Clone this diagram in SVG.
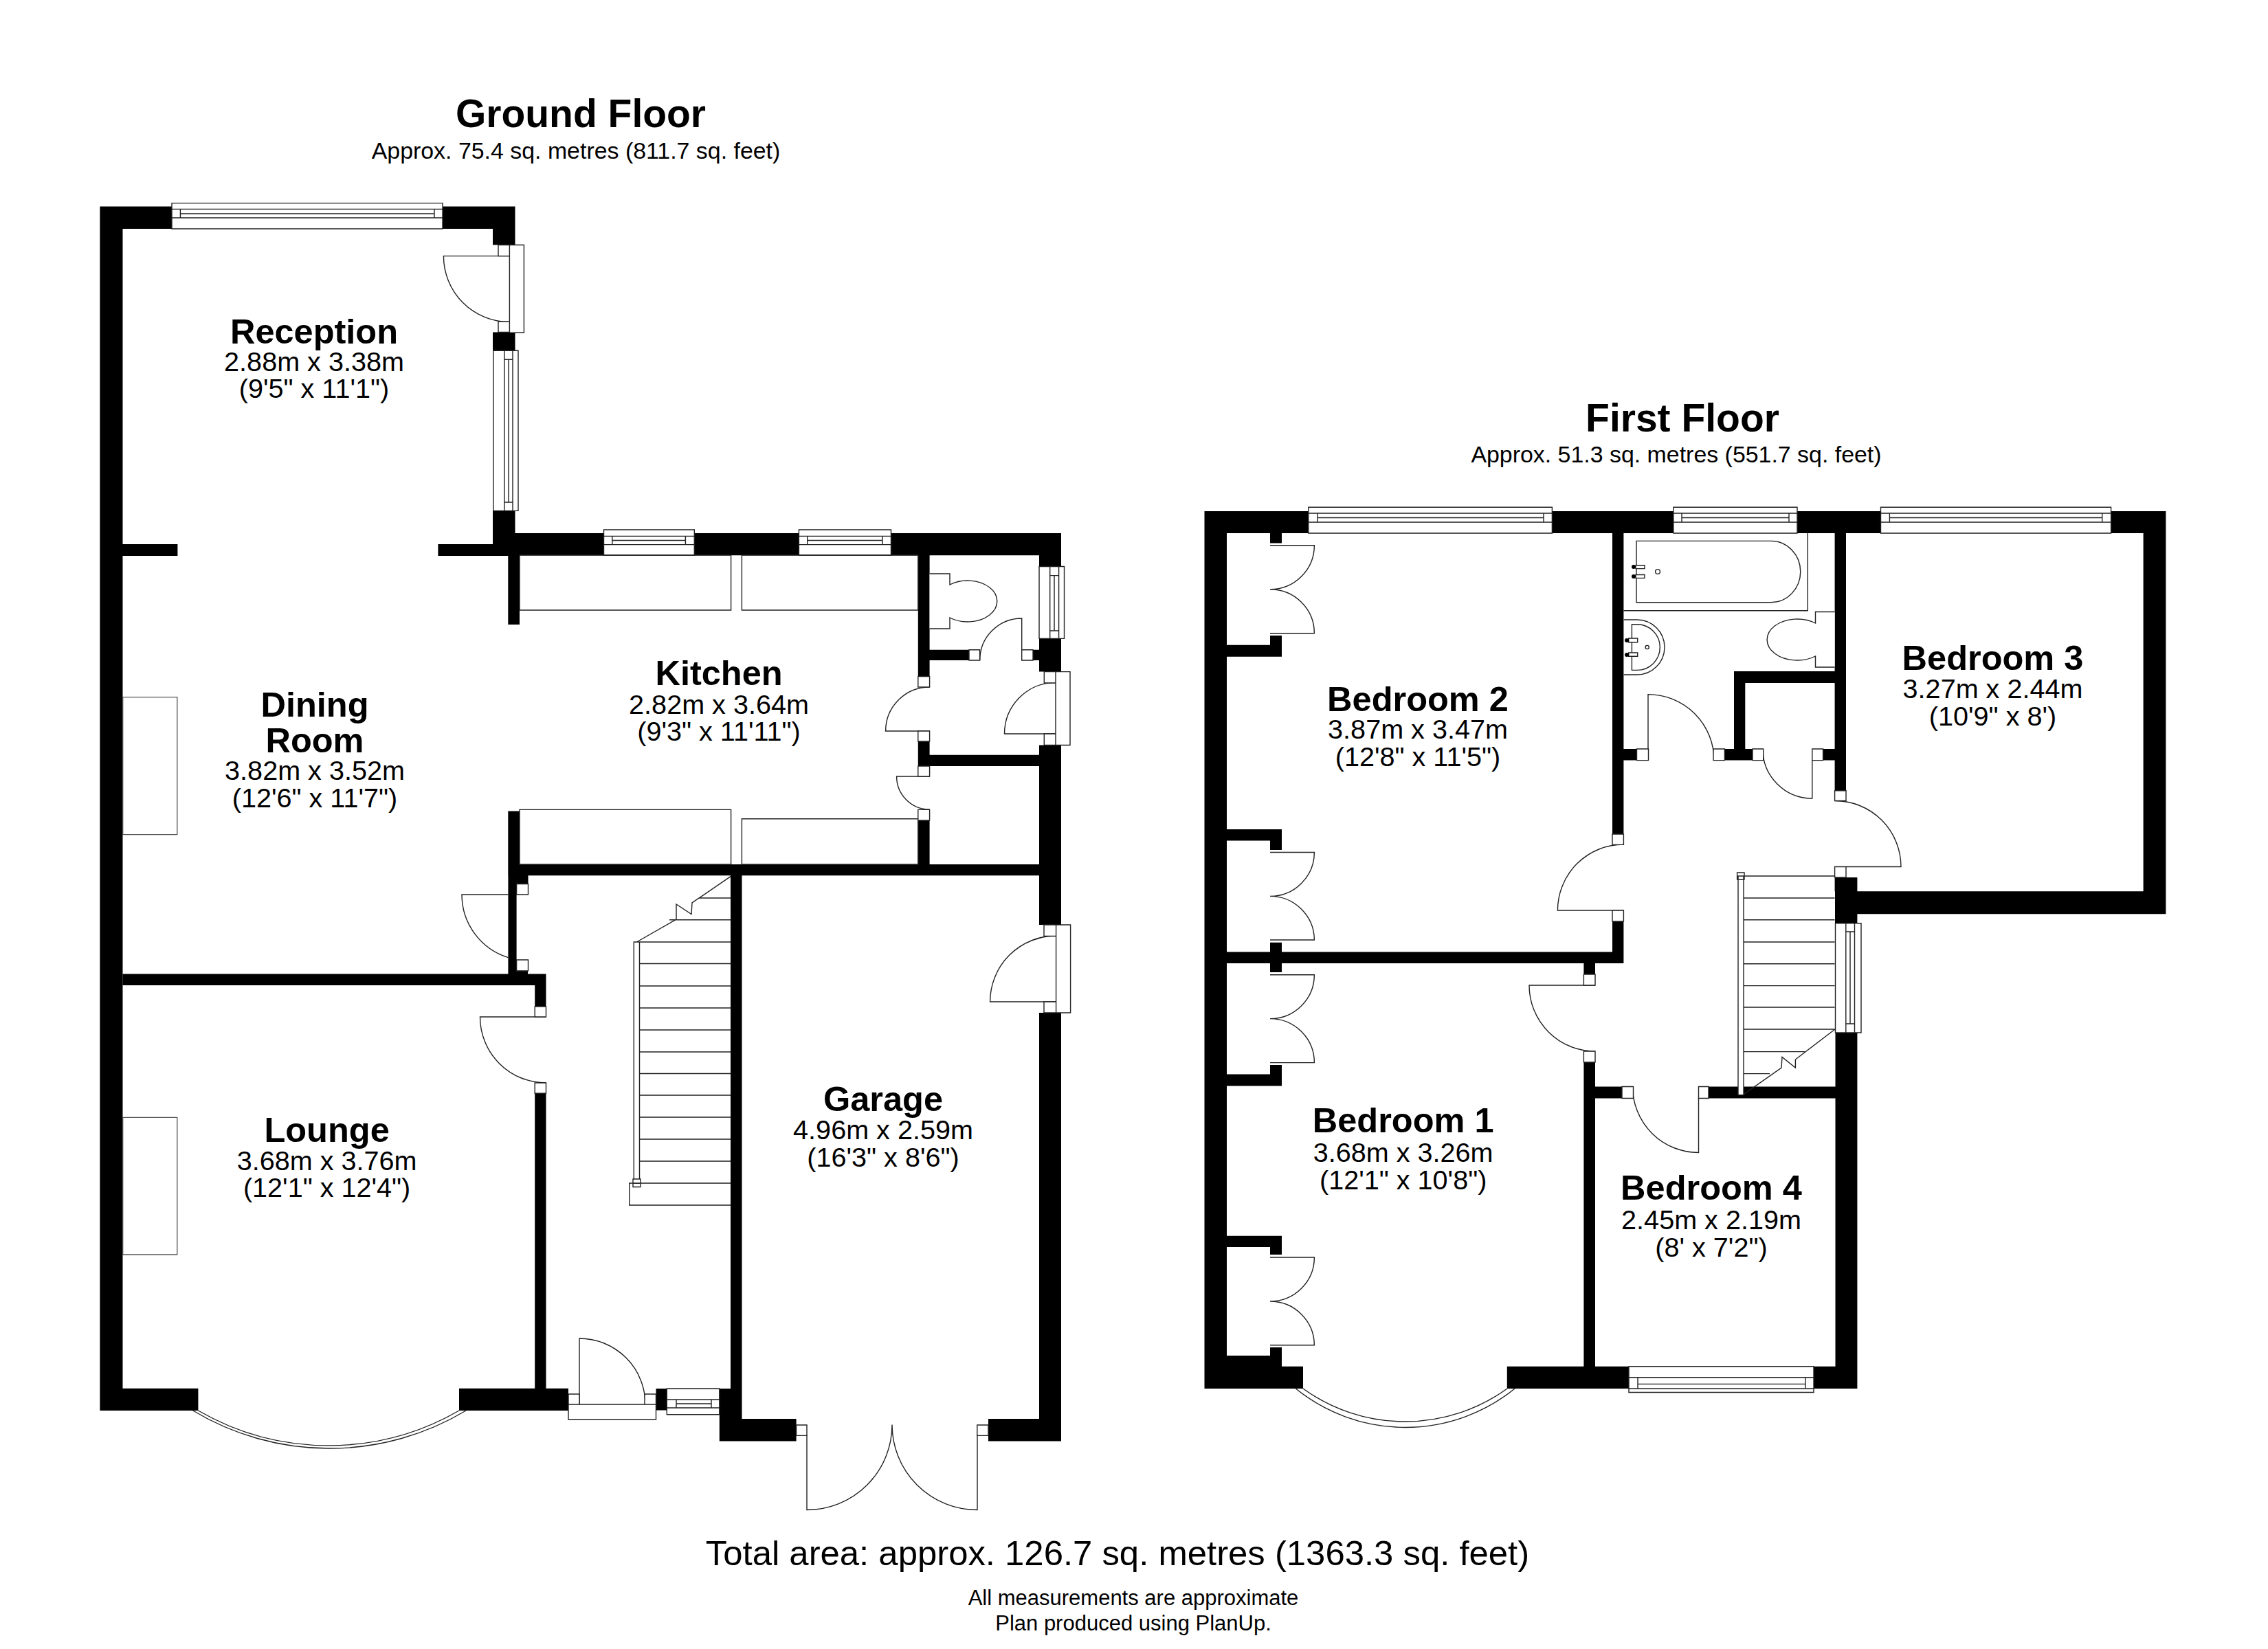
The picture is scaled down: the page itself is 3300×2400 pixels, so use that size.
<svg xmlns="http://www.w3.org/2000/svg" width="3300" height="2400" viewBox="0 0 3300 2400">
<style>
text{font-family:"Liberation Sans",Arial,sans-serif;fill:#000;text-anchor:middle}
.n{font-size:50.5px;font-weight:700}
.m{font-size:39.6px}
.h{font-size:57px;font-weight:700}
.s{font-size:33.9px}
.wall{fill:#000}
.f{fill:#fff;stroke:#222;stroke-width:1.4}
.l{fill:none;stroke:#222;stroke-width:1.4}
.g{fill:none;stroke:#555;stroke-width:1.3}
.dot{fill:#000}
</style>
<rect width="3300" height="2400" fill="#fff"/>
<g id="ground-floor">
<path id="ground-walls" class="wall" d="M145.4 300.6H178.5V2053H145.4Z M145.4 300.6H749.5V333H145.4Z M717 300.6H749.5V356.5H717Z M717 483.5H749.5V510.3H717Z M717 743.4H749.5V809H717Z M178.5 792H258.4V809H178.5Z M637.4 792H756V809H637.4Z M739.3 776H1544V808.2H739.3Z M739.3 808H756V909H739.3Z M1512 776H1544V977.6H1512Z M1512 1084.5H1544V1346H1512Z M1512 1474H1544V2097.5H1512Z M1335.8 808H1352.6V984.5H1335.8Z M1335.8 1079H1352.6V1115H1335.8Z M1335.8 1194H1352.6V1258H1335.8Z M1352.6 945.7H1410V961H1352.6Z M1503 945.7H1512V961H1503Z M1335.8 1098.8H1512V1115H1335.8Z M739.3 1258H1512V1274.3H739.3Z M739.3 1180.4H756V1258H739.3Z M751 1258H768.5V1286.5H751Z M739.4 1258H751.6V1417.4H739.4Z M751.6 1413H768V1417.4H751.6Z M178.7 1417.4H794.5V1434H178.7Z M778.2 1417.4H794.5V1465H778.2Z M778.2 1591H794.5V2021H778.2Z M145.4 2020.7H288.4V2053H145.4Z M668 2020.7H827V2053H668Z M954.5 2021H970.3V2052.5H954.5Z M1046.8 2021H1063V2065H1046.8Z M1063 1258H1079.5V2065H1063Z M1046.8 2065H1158.6V2097.5H1046.8Z M1438 2065H1544V2097.5H1438Z"/>
<g id="ground-windows">
<path class="f" d="M250 295.6H644V333H250Z M250 304.4H644 M250 317H644 M262.4 304.4V317 M632 304.4V317 M262.4 311H632"/>
<path class="f" d="M717.8 510.3H754V743.4H717.8Z M733.8 510.3V743.4 M746 510.3V743.4 M733.8 523.3H746 M733.8 731H746 M740 523.3V731"/>
<path class="f" d="M878.5 771H1010.3V808H878.5Z M878.5 780.4H1010.3 M878.5 792.6H1010.3 M890.8 780.4V792.6 M997.4 780.4V792.6 M890.8 786.5H997.4"/>
<path class="f" d="M1162.4 771H1296.5V808H1162.4Z M1162.4 780.4H1296.5 M1162.4 792.6H1296.5 M1174.7 780.4V792.6 M1284 780.4V792.6 M1174.7 786.5H1284"/>
<path class="f" d="M1512 824.5H1548.5V929.4H1512Z M1527.7 824.5V929.4 M1540.6 824.5V929.4 M1527.7 837.6H1540.6 M1527.7 918H1540.6 M1534 837.6V918"/>
<path class="f" d="M970.3 2021H1046.8V2058.7H970.3Z M970.3 2037H1046.8 M970.3 2049H1046.8 M984 2037V2049 M1035 2037V2049 M984 2043H1035"/>
<path class="l" d="M280.7 2053A386 386 0 0 0 678 2053 M288.4 2053A379.4 379.4 0 0 0 668 2053"/>
</g>
<g id="ground-fittings">
<path class="g" d="M178.7 1014.6H257.8V1214.6H178.7Z M178.7 1626.3H257.8V1826H178.7Z"/>
<path class="l" d="M756 808H1063.6V888H756Z M1079.4 808H1335.8V888H1079.4Z M756 1178.4H1063.6V1258H756Z M1079.4 1191.8H1335.8V1258H1079.4Z"/>
<path class="f" d="M1352.6 835H1382V851A43 30 0 1 1 1382 899V915H1352.6"/>
<path class="l" d="M1063 1371H930.5 M1063 1402.5H930.5 M1063 1435H930.5 M1063 1467H930.5 M1063 1499H930.5 M1063 1531H930.5 M1063 1562.5H930.5 M1063 1594H930.5 M1063 1626H930.5 M1063 1658H930.5 M1063 1690H930.5 M1063 1338.8H974 M1063 1307H1017 M922.3 1371H930.5V1722H922.3Z M926.4 1371L984 1338V1316L1006 1330.6L1007 1314L1063 1275.6"/>
<path class="f" d="M1063 1722H915.7V1754H1063 M921 1716H932V1727.5H921Z"/>
</g>
<g id="ground-doors">
<path class="l" d="M741.4 372.6H645.4A96 96 0 0 0 741.4 468.6 M1352.6 1064H1288.6A64 64 0 0 1 1352.6 1000 M1352.6 1130H1304.6A48 48 0 0 0 1352.6 1178 M1486.7 961V900A61 61 0 0 0 1425.7 961 M1536 1068H1461.5A74.5 74.5 0 0 1 1536 993.5 M1536.6 1458H1440.6A96 96 0 0 1 1536.6 1362 M739.4 1302H672A96 96 0 0 0 739.4 1393.6 M794.5 1480H698.5A96 96 0 0 0 794.5 1576 M843 2044V1948A96 96 0 0 1 939 2044 M1174 2089V2197.5A124 124 0 0 0 1298 2073.5 M1422 2089V2197.5A124 124 0 0 1 1298 2073.5"/>
<path class="f" d="M741.4 356.5H762.4V484.3H741.4Z M725 356.5H741.4V372.6H725Z M725 468H741.4V483.5H725Z M1335.8 984.5H1352.6V1000H1335.8Z M1335.8 1064H1352.6V1079H1335.8Z M1335.8 1115H1352.6V1130H1335.8Z M1335.8 1178.4H1352.6V1194H1335.8Z M1410 945.7H1425.6V961H1410Z M1486.7 945.7H1503V961H1486.7Z M1536 977.6H1557V1084.5H1536Z M1519.3 977.6H1536V994H1519.3Z M1519.3 1068H1536V1084.5H1519.3Z M1536.6 1346H1557.6V1474H1536.6Z M1519 1346H1536.6V1362.5H1519Z M1519 1458H1536.6V1474H1519Z M751.6 1286.5H768.5V1302H751.6Z M751.6 1397H768.5V1413H751.6Z M778.2 1465H794.5V1480H778.2Z M778.2 1576H794.5V1591.3H778.2Z M827 2044H954.5V2066H827Z M827 2029H843V2044H827Z M938 2029H954.5V2044H938Z M1158.6 2074H1174V2089.4H1158.6Z M1421.8 2074H1438V2089.4H1421.8Z"/>
</g>
<g id="ground-labels">
<text class="h" x="845" y="185">Ground Floor</text>
<text class="s" x="838" y="231">Approx. 75.4 sq. metres (811.7 sq. feet)</text>
<g id="reception"><text class="n" x="457" y="500">Reception</text><text class="m" x="457" y="540">2.88m x 3.38m</text><text class="m" x="457" y="579">(9'5" x 11'1")</text></g>
<g id="kitchen"><text class="n" x="1046" y="996.5">Kitchen</text><text class="m" x="1046" y="1039">2.82m x 3.64m</text><text class="m" x="1046" y="1078">(9'3" x 11'11")</text></g>
<g id="dining-room"><text class="n" x="458" y="1043">Dining</text><text class="n" x="458" y="1095">Room</text><text class="m" x="458" y="1135">3.82m x 3.52m</text><text class="m" x="458" y="1175">(12'6" x 11'7")</text></g>
<g id="lounge"><text class="n" x="475.6" y="1662">Lounge</text><text class="m" x="475.6" y="1702.7">3.68m x 3.76m</text><text class="m" x="475.6" y="1742">(12'1" x 12'4")</text></g>
<g id="garage"><text class="n" x="1285" y="1617">Garage</text><text class="m" x="1285" y="1657.5">4.96m x 2.59m</text><text class="m" x="1285" y="1698">(16'3" x 8'6")</text></g>
</g>
</g>
<g id="first-floor">
<path id="first-walls" class="wall" d="M1752.5 744H1785V2021H1752.5Z M1752.5 744H3151.4V776H1752.5Z M3118.6 744H3151.4V1330.3H3118.6Z M2670 1297.2H3151.4V1330.3H2670Z M2670 1277H2702.4V1343.7H2670Z M2669.6 776H2686V1150.8H2669.6Z M2669.6 1277H2686V1297.2H2669.6Z M2670.5 1503H2702.4V2021H2670.5Z M2346 776H2362.4V1214H2346Z M2346 1341H2362.4V1402H2346Z M1785 1385.6H2362.4V1402H1785Z M1848 776H1865V790.5H1848Z M1848 925H1865V955.7H1848Z M1848 1207H1865V1237H1848Z M1848 1371.8H1865V1415H1848Z M1848 1550H1865V1580.5H1848Z M1848 1798.7H1865V1826H1848Z M1848 1961H1865V1988.7H1848Z M1785 938.8H1865V955.7H1785Z M1785 1207H1865V1223.6H1785Z M1785 1563.6H1865V1580.5H1785Z M1785 1798.7H1865V1815H1785Z M1785 1973H1865V1988.7H1785Z M1752.5 1988.7H1896V2021H1752.5Z M2192.8 1988.7H2702.4V2021H2192.8Z M2304.4 1402H2321V1418H2304.4Z M2304.4 1546H2321V1988.7H2304.4Z M2321 1581.5H2360V1598.5H2321Z M2486 1581.5H2670.5V1598.5H2486Z M2523 977H2686V994H2523Z M2523 977H2539.3V1106.6H2523Z M2362.4 1090H2381.5V1106.6H2362.4Z M2509.4 1090H2550V1106.6H2509.4Z M2652.6 1090H2669.6V1106.6H2652.6Z"/>
<g id="first-windows">
<path class="f" d="M1903.8 738.3H2258.4V776H1903.8Z M1903.8 747H2258.4 M1903.8 760H2258.4 M1917 747V760 M2246 747V760 M1917 753.5H2246"/>
<path class="f" d="M2434.9 738.3H2615V776H2434.9Z M2434.9 747H2615 M2434.9 760H2615 M2447 747V760 M2603 747V760 M2447 753.5H2603"/>
<path class="f" d="M2736.5 738.3H3071.6V776H2736.5Z M2736.5 747H3071.6 M2736.5 760H3071.6 M2749.4 747V760 M3058.7 747V760 M2749.4 753.5H3058.7"/>
<path class="f" d="M2370 1988.7H2639V2026.5H2370Z M2370 2004.7H2639 M2370 2021H2639 M2383 2004.7V2021 M2627 2004.7V2021 M2383 2014.4H2627"/>
<path class="f" d="M2670.5 1343.7H2708V1503H2670.5Z M2685.8 1343.7V1503 M2698.5 1343.7V1503 M2685.8 1356H2698.5 M2685.8 1490H2698.5 M2692 1356V1490"/>
<path class="l" d="M1885.4 2021A253 253 0 0 0 2204 2021 M1896 2021A253.7 253.7 0 0 0 2193 2021"/>
</g>
<g id="first-fittings">
<path class="l" d="M2362.4 888.8H2630.3V776"/>
<path class="l" d="M2381 787.4H2577A42.7 44.6 0 0 1 2577 876.7H2381Z"/>
<path class="f" d="M2380 822.7H2393V827.6H2380Z M2380 836.5H2393V841.4H2380Z"/>
<circle class="dot" cx="2377" cy="825" r="3"/><circle class="dot" cx="2377" cy="839" r="3"/>
<ellipse class="l" cx="2412" cy="832" rx="3.4" ry="3.4"/>
<path class="l" d="M2362.7 902H2382A40 40 0 0 1 2382 982H2362.7 M2374.4 908.8H2382A33.3 33.3 0 0 1 2382 975.4H2374.4Z"/>
<path class="f" d="M2369.7 929H2382.7V934.7H2369.7Z M2369.7 950H2382.7V955.3H2369.7Z"/>
<circle class="dot" cx="2367" cy="932" r="3"/><circle class="dot" cx="2367" cy="953" r="3"/>
<ellipse class="l" cx="2396.7" cy="942" rx="2.6" ry="2.6"/>
<path class="f" d="M2669.6 890.5H2641.5V907A44 30 0 1 0 2641.5 955V971H2669.6"/>
<path class="l" d="M2669.6 1275H2537 M2669.6 1307H2537 M2669.6 1338.7H2537 M2669.6 1371H2537 M2669.6 1402.7H2537 M2669.6 1434.6H2537 M2669.6 1466H2537 M2669.6 1498H2537 M2626 1530.6H2537 M2575 1562.6H2537 M2670 1498L2612.4 1542V1554L2593 1538.4L2592 1554L2537 1592.7"/>
<path class="f" d="M2529 1275H2537V1593.6H2529Z M2527.6 1270H2538V1280H2527.6Z"/>
</g>
<g id="first-doors">
<path class="l" d="M1848 793.7H1912.4A64.4 64 0 0 1 1848 857.7 M1848 921.8H1912.4A64.4 64 0 0 0 1848 857.7 M1848 1240.5H1912.4A64.4 64 0 0 1 1848 1304.4 M1848 1368H1912.4A64.4 64 0 0 0 1848 1304.4 M1848 1418.7H1912.4A64.4 64 0 0 1 1848 1482.6 M1848 1546.6H1912.4A64.4 64 0 0 0 1848 1482.6 M1848 1830H1912.4A64.4 64 0 0 1 1848 1894 M1848 1957.7H1912.4A64.4 64 0 0 0 1848 1894 M2398 1106.6V1010.6A96 96 0 0 1 2494 1106.6 M2636.8 1106V1162A72 72 0 0 1 2564.8 1090 M2686 1261.5H2766A96 96 0 0 0 2670 1165.5 M2362.4 1325H2266.4A96 96 0 0 1 2362.4 1229 M2321 1434H2225A96 96 0 0 0 2321 1530 M2471.5 1598V1677.5A96 96 0 0 1 2375.5 1581.5"/>
<path class="f" d="M2381.5 1090H2398.5V1106.6H2381.5Z M2493 1090H2509.4V1106.6H2493Z M2550 1090H2565.7V1106.6H2550Z M2636.8 1090H2652.6V1106.6H2636.8Z M2669.6 1150.8H2686V1165.5H2669.6Z M2669.6 1261.5H2686V1277H2669.6Z M2346 1214H2362.4V1229.4H2346Z M2346 1325H2362.4V1341H2346Z M2304.4 1418H2321V1434H2304.4Z M2304.4 1530H2321V1546H2304.4Z M2360 1581.5H2376.5V1598.5H2360Z M2471.5 1581.5H2486V1598.5H2471.5Z"/>
</g>
<g id="first-labels">
<text class="h" x="2448" y="628">First Floor</text>
<text class="s" x="2439" y="673">Approx. 51.3 sq. metres (551.7 sq. feet)</text>
<g id="bedroom-2"><text class="n" x="2063" y="1035">Bedroom 2</text><text class="m" x="2063" y="1075">3.87m x 3.47m</text><text class="m" x="2063" y="1115">(12'8" x 11'5")</text></g>
<g id="bedroom-3"><text class="n" x="2899.5" y="975">Bedroom 3</text><text class="m" x="2899.5" y="1016">3.27m x 2.44m</text><text class="m" x="2899.5" y="1055.7">(10'9" x 8')</text></g>
<g id="bedroom-1"><text class="n" x="2041.7" y="1647.5">Bedroom 1</text><text class="m" x="2041.7" y="1690.6">3.68m x 3.26m</text><text class="m" x="2041.7" y="1730.8">(12'1" x 10'8")</text></g>
<g id="bedroom-4"><text class="n" x="2490" y="1746.3">Bedroom 4</text><text class="m" x="2490" y="1788.5">2.45m x 2.19m</text><text class="m" x="2490" y="1828.7">(8' x 7'2")</text></g>
</g>
</g>
<g id="footer">
<text x="1626" y="2278" font-size="50.85">Total area: approx. 126.7 sq. metres (1363.3 sq. feet)</text>
<text x="1649" y="2336" font-size="31">All measurements are approximate</text>
<text x="1649" y="2372.5" font-size="31">Plan produced using PlanUp.</text>
</g>
</svg>
